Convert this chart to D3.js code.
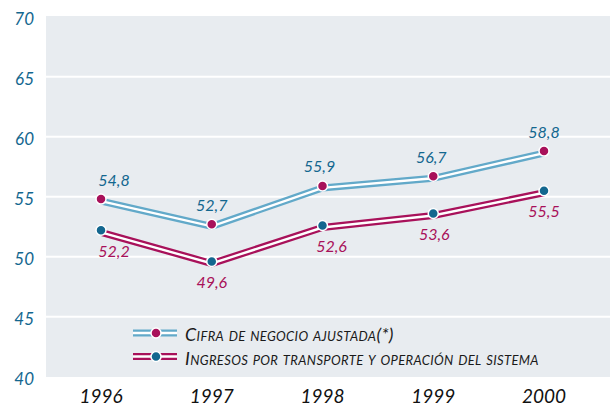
<!DOCTYPE html>
<html lang="es">
<head>
<meta charset="utf-8">
<title>Cifra de negocio</title>
<script src="https://d3js.org/d3.v7.min.js"></script>
<style>
  body { margin: 0; background: #fff; }
  text { font-family: Lato, "Open Sans", sans-serif; font-style: italic; }
</style>
</head>
<body>
<svg width="613" height="407"></svg>
<script>
const years = ["1996", "1997", "1998", "1999", "2000"];
const cifra = [54.8, 52.7, 55.9, 56.7, 58.8];
const ingresos = [52.2, 49.6, 52.6, 53.6, 55.5];
const yTicks = [40, 45, 50, 55, 60, 65, 70];
const legendNames = ["Cifra de negocio ajustada(*)", "Ingresos por transporte y operación del sistema"];

const svg = d3.select("svg");
const blue = "#62a9c9", crimson = "#a8115a", teal = "#13678f";

const x = d3.scalePoint().domain(years).range([101, 544]);
const y = d3.scaleLinear().domain([40, 70]).range([376.7, 16.7]);

// plot background
svg.append("rect")
  .attr("x", 46).attr("y", 16)
  .attr("width", 564).attr("height", 361)
  .attr("fill", "#e8ecf0");

// white gridlines
svg.selectAll(".grid")
  .data(yTicks.filter(d => d > 40 && d < 70))
  .enter().append("line")
  .attr("x1", 46).attr("x2", 610)
  .attr("y1", d => y(d)).attr("y2", d => y(d))
  .attr("stroke", "#fff").attr("stroke-width", 2);

// y tick labels
svg.selectAll(".ytick")
  .data(yTicks)
  .enter().append("text")
  .attr("x", 34).attr("y", d => y(d) + 2)
  .attr("text-anchor", "end").attr("dominant-baseline", "central")
  .attr("font-size", 17).attr("fill", teal)
  .text(d => d);

// x labels
svg.selectAll(".xtick")
  .data(years)
  .enter().append("text")
  .attr("x", d => x(d)).attr("y", 395)
  .attr("text-anchor", "middle").attr("dominant-baseline", "central")
  .attr("font-size", 19).attr("fill", "#111")
  .text(d => d);

const line = d3.line().x((d, i) => x(years[i])).y(d => y(d) + 2);

function doubleLine(vals, color) {
  svg.append("path").datum(vals).attr("d", line)
    .attr("fill", "none").attr("stroke", color).attr("stroke-width", 7);
  svg.append("path").datum(vals).attr("d", line)
    .attr("fill", "none").attr("stroke", "#fff").attr("stroke-width", 2.4);
}
doubleLine(cifra, blue);
doubleLine(ingresos, crimson);

function markers(vals, color) {
  svg.append("g").selectAll("circle")
    .data(vals).enter().append("circle")
    .attr("cx", (d, i) => x(years[i])).attr("cy", d => y(d))
    .attr("r", 5).attr("fill", color)
    .attr("stroke", "#fff").attr("stroke-width", 1.5);
}
markers(cifra, crimson);
markers(ingresos, teal);

// value labels
const labelDx = [13, 0, -3, -2, 0];
const labelDx2 = [13, 0, 9, 1, 0];
const fmt = v => String(v.toFixed(1)).replace(".", ",");

svg.append("g").selectAll("text")
  .data(cifra).enter().append("text")
  .attr("x", (d, i) => x(years[i]) + labelDx[i]).attr("y", d => y(d) - 20)
  .attr("text-anchor", "middle").attr("dominant-baseline", "central")
  .attr("font-size", 16).attr("fill", teal)
  .text(fmt);

svg.append("g").selectAll("text")
  .data(ingresos).enter().append("text")
  .attr("x", (d, i) => x(years[i]) + labelDx2[i]).attr("y", d => y(d) + 20)
  .attr("text-anchor", "middle").attr("dominant-baseline", "central")
  .attr("font-size", 16).attr("fill", crimson)
  .text(fmt);

// legend
const legend = svg.append("g").attr("transform", "translate(133,333)");
const legendColors = [[blue, crimson], [crimson, teal]];
legendNames.forEach((name, i) => {
  const g = legend.append("g").attr("transform", `translate(0,${i * 23.5})`);
  g.append("line").attr("x1", 0).attr("x2", 44).attr("y1", 0).attr("y2", 0)
    .attr("stroke", legendColors[i][0]).attr("stroke-width", 7);
  g.append("line").attr("x1", 0).attr("x2", 44).attr("y1", 0).attr("y2", 0)
    .attr("stroke", "#fff").attr("stroke-width", 2.4);
  g.append("circle").attr("cx", 23).attr("cy", 0).attr("r", 5)
    .attr("fill", legendColors[i][1]).attr("stroke", "#fff").attr("stroke-width", 1.5);
  g.append("text").attr("x", 52).attr("y", 1)
    .attr("dominant-baseline", "central")
    .attr("font-size", 18).attr("font-variant", "small-caps")
    .attr("letter-spacing", 0.35).attr("fill", "#1a1a1a")
    .text(name);
});
</script>
</body>
</html>
